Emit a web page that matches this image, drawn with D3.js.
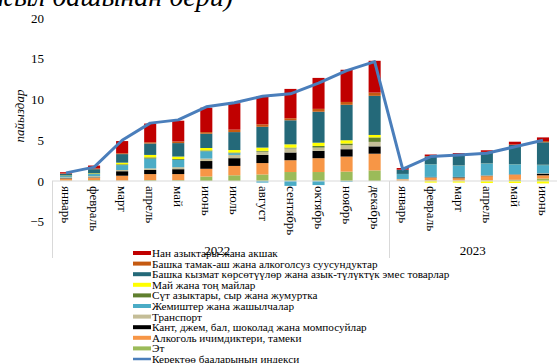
<!DOCTYPE html>
<meta charset="utf-8">
<style>
body { margin: 0; background: #fff; }
text { font-family: "Liberation Serif", "DejaVu Serif", serif; }
</style>
<svg width="557" height="363"></svg>
<script src="https://d3js.org/d3.v7.min.js"></script>
<script>
"use strict";

var serif = "'Liberation Serif', 'DejaVu Serif', serif";

// categories
var months = ["январь","февраль","март","апрель","май","июнь","июль","август","сентябрь","октябрь","ноябрь","декабрь",
              "январь","февраль","март","апрель","май","июнь"];
var years = ["2022","2023"];
var yearSize = [12, 6];
var yTicks = [-5, 0, 5, 10, 15, 20];

// series, bottom of the stack first
var et       = [0.05,0.1,0.05,0.1,0.1,0.55,0.7,0.8,1.1,1.1,1.15,1.3, 0.05,0.05,0.05,0.05,0.15,0.3];
var alkogol  = [0.25,0.3,0.6,0.75,0.75,0.95,1.15,1.4,1.45,1.7,1.85,2.05, 0.15,0.35,0.3,0.55,0.6,0.4];
var kant     = [0.05,0.05,0.55,0.5,0.6,0.95,0.95,1.0,0.95,0.9,0.9,0.9, 0,0.05,0.1,0.05,0.05,0.2];
var transport= [0.1,0.15,0.15,0.2,0.25,0.3,0.4,0.4,0.5,0.4,0.5,0.55, 0.05,0.05,0.05,0.05,0.05,0.05];
var jemish   = [0.15,0.25,0.6,1.2,0.9,0.9,0.2,-0.2,-0.6,-0.5,-0.1,0, 0.6,1.55,1.4,1.45,1.2,1.0];
var sut      = [0.05,0.05,0.1,0.15,0.1,0.1,0.1,0.1,0.1,0.2,0.2,0.55, 0.02,0.02,0.02,0.02,0.02,0.05];
var mai      = [0.03,0.05,0.2,0.3,0.3,0.3,0.3,0.4,0.4,0.4,0.4,0.3, 0,-0.2,-0.2,-0.25,-0.25,-0.3];
var kyzmat   = [0.2,0.5,1.05,1.4,1.65,1.75,2.2,2.55,2.95,3.8,4.35,4.8, 0.5,0.95,1.2,1.35,2.35,2.75];
var tamak    = [0.05,0.1,0.1,0.15,0.2,0.2,0.3,0.3,0.25,0.35,0.35,0.4, 0.02,0.03,0.05,0.05,0.05,0.15];
var nan      = [0.15,0.35,1.5,2.3,2.55,3.0,3.25,3.45,3.6,3.8,3.95,3.9, 0.2,0.2,0.25,0.2,0.35,0.45];
var indeks   = [1.0,1.7,5.0,7.1,7.5,9.1,9.6,10.4,10.7,12.0,13.55,14.65, 1.45,3.0,3.2,3.4,4.2,5.0];

var seriesNames = ["Эт","Алкоголь ичимдиктери, тамеки","Кант, джем, бал, шоколад жана момпосуйлар","Транспорт",
  "Жемиштер жана жашылчалар","Сүт азыктары, сыр жана жумуртка","Май жана тоң майлар",
  "Башка кызмат көрсөтүүлөр жана азык-түлүктүк эмес товарлар","Башка тамак-аш жана алкоголсуз суусундуктар",
  "Нан азыктары жана акшак"];
var seriesValues = [et, alkogol, kant, transport, jemish, sut, mai, kyzmat, tamak, nan];
var seriesColors = ["#9BBB59","#F79646","#000000","#C4BD97","#4BACC6","#5F7F2E","#FFFF00","#246979","#C55A11","#C00000"];
var lineName = "Керектөө бааларынын индекси";

var svg = d3.select("svg");

var rows = months.map(function(m, i) {
  var r = {i: i};
  seriesValues.forEach(function(s, k) { r[k] = s[i]; });
  return r;
});

var keys = d3.range(seriesValues.length);
var stacked = d3.stack().keys(keys).offset(d3.stackOffsetDiverging)(rows);

var x = d3.scaleBand().domain(d3.range(months.length)).range([52, 557]).paddingInner(0.57).paddingOuter(0.285);
var y = d3.scaleLinear().domain([-5, 20]).range([221.75, 18]);

// partially visible title
svg.append("text")
  .attr("x", 233).attr("y", 6)
  .attr("text-anchor", "end")
  .attr("font-family", serif)
  .style("font-size", "28px").style("font-style", "italic")
  .text("салымы (жыл башынан бери)");

// y axis labels
var yAxis = svg.append("g").attr("transform", "translate(44,0)")
  .call(d3.axisLeft(y).tickValues(yTicks).tickSize(0).tickPadding(0));
yAxis.attr("font-family", serif);
yAxis.select(".domain").remove();
yAxis.selectAll("text").style("font-size", "13px").attr("fill", "#000");

svg.append("text")
  .attr("transform", "translate(24,116) rotate(-90)")
  .attr("text-anchor", "middle")
  .attr("font-family", serif)
  .style("font-size", "13px").style("font-style", "italic")
  .text("пайыздар");

// bars
svg.append("g").selectAll("g")
  .data(stacked)
  .join("g")
    .attr("fill", function(d) { return seriesColors[d.key]; })
  .selectAll("rect")
  .data(function(d) { return d; })
  .join("rect")
    .attr("x", function(d) { return x(d.data.i); })
    .attr("width", x.bandwidth())
    .attr("y", function(d) { return y(Math.max(d[0], d[1])); })
    .attr("height", function(d) { return Math.abs(y(d[0]) - y(d[1])); });

// category axis
svg.append("line")
  .attr("x1", 52).attr("x2", 557).attr("y1", y(0)).attr("y2", y(0))
  .attr("stroke", "#d9d9d9").attr("stroke-width", 1);

[0, 12].forEach(function(e) {
  var gx = e == 0 ? 52.5 : Math.round(x(e) - x.step() * x.paddingInner() / 2) + 0.5;
  svg.append("line")
    .attr("x1", gx).attr("x2", gx).attr("y1", y(0)).attr("y2", 258)
    .attr("stroke", "#d9d9d9").attr("stroke-width", 1);
});

svg.append("g").attr("font-family", serif).selectAll("text")
  .data(months)
  .join("text")
    .attr("transform", function(d, i) { return "translate(" + (x(i) + x.bandwidth() / 2) + ",186) rotate(90)"; })
    .attr("dy", "0.3em")
    .style("font-size", "13px")
    .text(function(d) { return d; });

var start = 0;
years.forEach(function(yr, k) {
  var x0 = x(start) - x.step() * x.paddingOuter();
  var x1 = x(start + yearSize[k] - 1) + x.bandwidth() + x.step() * x.paddingOuter();
  svg.append("text")
    .attr("x", k == 0 ? (x0 + x1) / 2 - 3 : (x0 + x1) / 2)
    .attr("y", 255)
    .attr("text-anchor", "middle")
    .attr("font-family", serif)
    .style("font-size", "13px")
    .text(yr);
  start += yearSize[k];
});

// index line
svg.append("path")
  .datum(indeks)
  .attr("fill", "none")
  .attr("stroke", "#4A7EBB")
  .attr("stroke-width", 3)
  .attr("stroke-linejoin", "round")
  .attr("d", d3.line()
    .x(function(d, i) { return x(i) + x.bandwidth() / 2; })
    .y(function(d) { return y(d); }));

// legend
var legend = svg.append("g").attr("transform", "translate(133,253)").attr("font-family", serif);
var legendItems = seriesNames.map(function(n, k) { return {name: n, color: seriesColors[k]}; }).reverse();
legendItems.forEach(function(it, k) {
  var g = legend.append("g").attr("transform", "translate(0," + (k * 10.6) + ")");
  g.append("rect").attr("x", 0).attr("y", -2).attr("width", 18).attr("height", 4).attr("fill", it.color);
  g.append("text").attr("x", 19).attr("dy", "0.35em").style("font-size", "11.2px").text(it.name);
});
var lg = legend.append("g").attr("transform", "translate(0," + (legendItems.length * 10.6) + ")");
lg.append("line").attr("x1", 0).attr("x2", 18).attr("stroke", "#4A7EBB").attr("stroke-width", 2.5);
lg.append("text").attr("x", 19).attr("dy", "0.35em").style("font-size", "11.2px").text(lineName);
</script>
